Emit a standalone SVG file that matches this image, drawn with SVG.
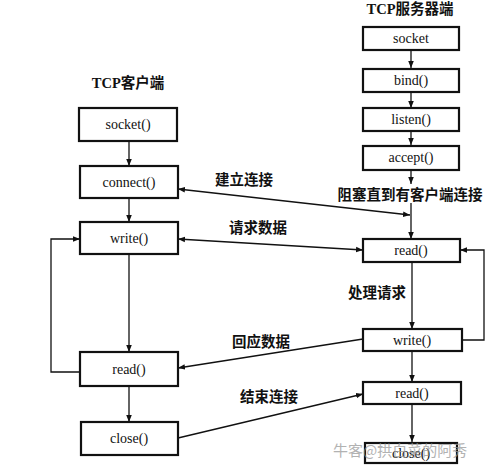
<svg xmlns="http://www.w3.org/2000/svg" width="498" height="476" viewBox="0 0 498 476">
<defs>
<marker id="ah" viewBox="0 0 10 10" refX="10" refY="5" markerWidth="7" markerHeight="7" orient="auto-start-reverse" markerUnits="userSpaceOnUse">
<path d="M0,1 L10,5 L0,9 Z" fill="#111"/>
</marker>
<style>
.box{fill:#fff;stroke:#111;stroke-width:2.2}
.lbl{font-family:"Liberation Serif","Times New Roman",serif;font-size:14px;fill:#111;text-anchor:middle}
.cn{font-family:"Liberation Serif","Noto Sans CJK SC",sans-serif;font-size:14.5px;font-weight:bold;fill:#111;text-anchor:middle}
.ln{fill:none;stroke:#111;stroke-width:1.3}
.wm{font-family:"Noto Sans CJK SC",sans-serif;font-size:15px;fill:#999;opacity:0.75}
</style>
</defs>
<rect width="498" height="476" fill="#fff"/>
<text class="cn" x="410" y="14">TCP服务器端</text>
<text class="cn" x="128" y="88">TCP客户端</text>

<g id="connectors">
<line class="ln" x1="411" y1="50" x2="411" y2="68" marker-end="url(#ah)"/>
<line class="ln" x1="411" y1="92" x2="411" y2="108" marker-end="url(#ah)"/>
<line class="ln" x1="411" y1="131" x2="411" y2="145" marker-end="url(#ah)"/>
<line class="ln" x1="411" y1="170" x2="411" y2="184" marker-end="url(#ah)"/>
<line class="ln" x1="411" y1="203" x2="411" y2="239" marker-end="url(#ah)"/>
<line class="ln" x1="412" y1="262" x2="412" y2="329" marker-end="url(#ah)"/>
<line class="ln" x1="412" y1="351" x2="412" y2="382" marker-end="url(#ah)"/>
<line class="ln" x1="412" y1="404" x2="412" y2="442" marker-end="url(#ah)"/>
<polyline class="ln" points="462,340 484,340 484,250 460,250" marker-end="url(#ah)"/>
<line class="ln" x1="129" y1="141" x2="129" y2="166" marker-end="url(#ah)"/>
<line class="ln" x1="129" y1="198" x2="129" y2="222" marker-end="url(#ah)"/>
<line class="ln" x1="129" y1="254" x2="129" y2="352" marker-end="url(#ah)"/>
<line class="ln" x1="129" y1="386" x2="129" y2="422" marker-end="url(#ah)"/>
<polyline class="ln" points="80,372 51,372 51,239 80,239" marker-end="url(#ah)"/>
<line class="ln" x1="178" y1="189" x2="410" y2="215" marker-start="url(#ah)" marker-end="url(#ah)"/>
<line class="ln" x1="178" y1="239" x2="363" y2="250" marker-start="url(#ah)" marker-end="url(#ah)"/>
<line class="ln" x1="363" y1="339" x2="178" y2="368" marker-end="url(#ah)"/>
<line class="ln" x1="178" y1="438" x2="363" y2="394" marker-end="url(#ah)"/>
</g>

<g id="s_socket"><rect class="box" x="363" y="27" width="96" height="23"/><text class="lbl" x="411" y="43">socket</text></g>
<g id="s_bind"><rect class="box" x="363" y="69" width="96" height="23"/><text class="lbl" x="411" y="85">bind()</text></g>
<g id="s_listen"><rect class="box" x="363" y="108" width="96" height="23"/><text class="lbl" x="411" y="124">listen()</text></g>
<g id="s_accept"><rect class="box" x="363" y="146" width="96" height="24"/><text class="lbl" x="411" y="162">accept()</text></g>
<g id="s_read"><rect class="box" x="363" y="239" width="97" height="23"/><text class="lbl" x="411" y="255">read()</text></g>
<g id="s_write"><rect class="box" x="363" y="329" width="99" height="22"/><text class="lbl" x="412" y="345">write()</text></g>
<g id="s_read2"><rect class="box" x="363" y="382" width="98" height="22"/><text class="lbl" x="412" y="398">read()</text></g>
<g id="s_close"><rect class="box" x="365" y="443" width="92" height="20"/><text class="lbl" x="411" y="458">close()</text></g>

<g id="c_socket"><rect class="box" x="79" y="108" width="98" height="33"/><text class="lbl" x="128" y="129">socket()</text></g>
<g id="c_connect"><rect class="box" x="80" y="166" width="98" height="32"/><text class="lbl" x="129" y="187">connect()</text></g>
<g id="c_write"><rect class="box" x="80" y="222" width="98" height="32"/><text class="lbl" x="129" y="243">write()</text></g>
<g id="c_read"><rect class="box" x="80" y="352" width="98" height="34"/><text class="lbl" x="129" y="374">read()</text></g>
<g id="c_close"><rect class="box" x="81" y="422" width="97" height="33"/><text class="lbl" x="129" y="443">close()</text></g>

<text class="cn" x="244" y="185">建立连接</text>
<text class="cn" x="410" y="200">阻塞直到有客户端连接</text>
<text class="cn" x="258" y="233">请求数据</text>
<text class="cn" x="377" y="298">处理请求</text>
<text class="cn" x="261" y="347">回应数据</text>
<text class="cn" x="269" y="402">结束连接</text>
<text class="wm" x="333" y="456">牛客@拱白菜的阿秀</text>
</svg>
